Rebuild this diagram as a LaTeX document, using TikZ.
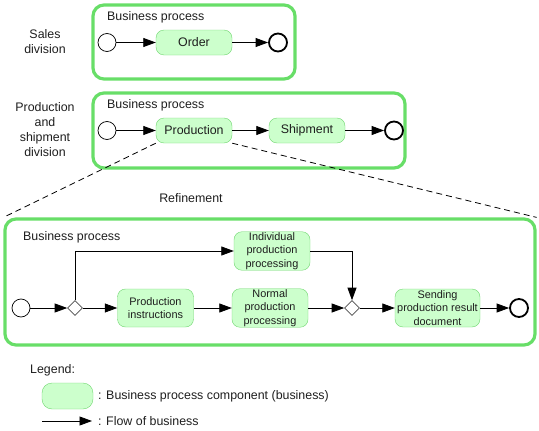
\documentclass[tikz,border=0pt]{standalone}
\usepackage{fontspec}
\setmainfont{Liberation Sans}
\usetikzlibrary{arrows.meta,shapes.geometric}
\definecolor{grpgreen}{RGB}{104,222,104}
\definecolor{procborder}{RGB}{112,214,112}
\definecolor{procfill}{RGB}{204,255,204}
\definecolor{txt}{RGB}{30,30,30}
\tikzset{
  group/.style={draw=grpgreen, line width=3.2pt, rounded corners=11pt, inner sep=0pt},
  proc/.style={draw=procborder, fill=procfill, rounded corners=8pt, minimum width=76pt, minimum height=25pt, inner sep=1pt, align=center, text=txt, font=\fontsize{12.4}{14}\selectfont},
  proc3/.style={proc, minimum height=38pt, font=\fontsize{10.9}{13.2}\selectfont},
  startev/.style={circle, draw=black, fill=white, minimum size=18pt, inner sep=0pt, line width=0.7pt},
  endev/.style={circle, draw=black, fill=white, minimum size=18pt, inner sep=0pt, line width=1.8pt},
  gw/.style={diamond, draw=black!70, fill=white, minimum width=15pt, minimum height=15pt, inner sep=0pt, line width=0.6pt},
  flow/.style={-{Triangle[length=12.5pt,width=9pt]}, line width=0.8pt, black},
  lbl/.style={text=txt, font=\fontsize{12.4}{15}\selectfont, inner sep=0pt},
  refine/.style={dashed, dash pattern=on 6pt off 4pt, line width=0.8pt},
}
\begin{document}
\begin{tikzpicture}[x=1pt,y=-1pt]
\useasboundingbox (0,0) rectangle (539,431);
% group boxes
\node[group, minimum width=202pt, minimum height=74pt] (salesbox) at (194,42) {};
\node[group, minimum width=312pt, minimum height=75pt] (prodbox) at (249,130.5) {};
\node[group, minimum width=530pt, minimum height=126pt] (bigbox) at (270,282) {};
% division labels
\node[lbl, align=center] (saleslbl) at (45,42) {Sales\\division};
\node[lbl, align=center] (prodlbl) at (45,130) {Production\\and\\shipment\\division};
\node[lbl, anchor=west] (bp1) at (107,17) {Business process};
\node[lbl, anchor=west] (bp2) at (107,105) {Business process};
\node[lbl, anchor=west] (bp3) at (23,237) {Business process};
% sales process
\node[startev] (s1) at (107,42.5) {};
\node[proc] (order) at (194,42.5) {Order};
\node[endev] (e1) at (278,42.5) {};
\draw[flow] (s1) -- (order);
\draw[flow] (order) -- (e1);
% production process
\node[startev] (s2) at (107,130.5) {};
\node[proc] (production) at (194,130.5) {Production};
\node[proc] (shipment) at (307,130.5) {Shipment};
\node[endev] (e2) at (394,130.5) {};
\draw[flow] (s2) -- (production);
\draw[flow] (production) -- (shipment);
\draw[flow] (shipment) -- (e2);
% refinement
\draw[refine] (production.south west) -- (bigbox.north west);
\draw[refine] (production.south east) -- (bigbox.north east);
\node[lbl] (refinelbl) at (191,198) {Refinement};
% refined process
\node[startev] (s3) at (21,308) {};
\node[gw] (g1) at (75,308) {};
\node[proc3] (pinst) at (155.5,308) {Production\\instructions};
\node[proc3] (normal) at (270,308) {Normal\\production\\processing};
\node[proc3] (indiv) at (272,251) {Individual\\production\\processing};
\node[gw] (g2) at (352,308) {};
\node[proc3, minimum width=85pt] (sending) at (437.5,308) {Sending\\production result\\document};
\node[endev] (e3) at (519,308) {};
\draw[flow] (s3) -- (g1);
\draw[flow] (g1) -- (pinst);
\draw[flow] (g1.north) |- (indiv.west);
\draw[flow] (pinst) -- (normal);
\draw[flow] (normal) -- (g2);
\draw[flow] (indiv.east) -| (g2.north);
\draw[flow] (g2) -- (sending);
\draw[flow] (sending) -- (e3);
% legend
\node[lbl, anchor=west] (leg) at (30,370) {Legend:};
\node[proc, minimum width=51pt, minimum height=26pt, rounded corners=10pt] (legbox) at (67.5,396) {};
\node[lbl, anchor=west] (legtxt1) at (98,396) {: Business process component (business)};
\coordinate (la) at (42,421);
\node[lbl, anchor=west] (legtxt2) at (98,421) {: Flow of business};
\draw[flow] (la) -- (92,421) coordinate (lb);
\end{tikzpicture}
\end{document}
